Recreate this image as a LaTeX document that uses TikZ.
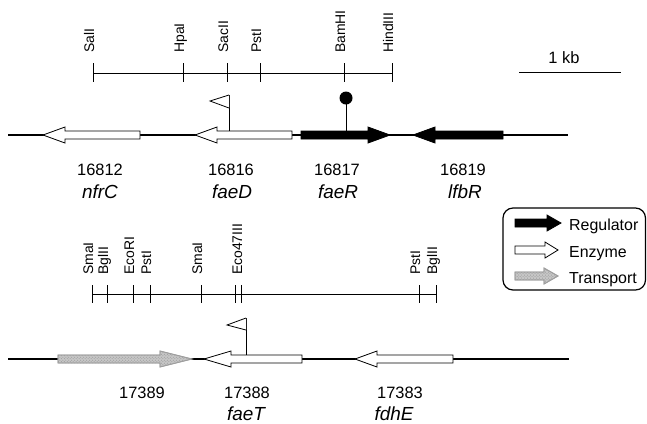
\documentclass[tikz,border=0pt]{standalone}
\usepackage{fontspec}
\setmainfont{Liberation Sans}
\usetikzlibrary{patterns}
\newcommand\genearrow[5]{\draw[#1] (#2,#5-4) -- (#3,#5-4) -- (#3,#5-8) -- (#4,#5) -- (#3,#5+8) -- (#3,#5+4) -- (#2,#5+4) -- cycle;}
\begin{document}
\begin{tikzpicture}[x=1bp,y=-1bp,
  site/.style={rotate=90,anchor=base west,inner sep=0pt,font=\fontsize{14}{16}\selectfont},
  num/.style={anchor=base,inner sep=0pt,font=\fontsize{16.5}{19}\selectfont},
  gname/.style={anchor=base,inner sep=0pt,font=\fontsize{19}{22}\selectfont\itshape},
  legtext/.style={anchor=base west,inner sep=0pt,font=\fontsize{16}{19}\selectfont},
  dna/.style={line width=1.7bp},
  rmap/.style={line width=0.9bp},
  reg/.style={fill=black,draw=black,line width=0.8bp},
  enz/.style={fill=white,draw=black,line width=0.8bp},
  trn/.style={fill=gray!45,draw=gray!75,line width=0.8bp},
  trnpat/.style={pattern=crosshatch dots,pattern color=gray!85,draw=gray!75,line width=0.8bp},
  flagstyle/.style={fill=white,draw=black,line width=0.8bp}
]
\useasboundingbox (0,0) rectangle (647,423);

% ---------- top restriction map ----------
\coordinate (tm1) at (93,73);
\coordinate (tm2) at (393,73);
\draw[rmap] (tm1) -- (tm2);
\foreach \x/\n/\lab in {93/salI/SalI,183/hpaI/HpaI,227/sacII/SacII,260/pstI/PstI,344/bamHI/BamHI,392/hindIII/HindIII}{
  \draw[rmap] (\x,63) -- (\x,82);
  \node[site] (t\n) at (\x+1,53) {\lab};
}
% scale bar
\coordinate (sb1) at (519,72);
\coordinate (sb2) at (621,72);
\draw[rmap] (sb1) -- (sb2);
\node[num] (kb) at (564,63) {1 kb};

% ---------- top gene line ----------
\coordinate (ta) at (8,135);
\coordinate (tb) at (568,135);
\draw[dna] (ta) -- (tb);
\genearrow{enz}{140}{65}{43}{135}
\genearrow{enz}{292}{217}{195}{135}
\genearrow{reg}{301}{368}{390}{135}
\genearrow{reg}{503}{435}{413}{135}
% promoter flag faeD
\draw[line width=0.8bp] (229,131) -- (229,95);
\draw[flagstyle] (229,95) -- (210,101) -- (229,108);
% terminator lollipop faeR
\draw[line width=0.8bp] (346,131) -- (346,100);
\fill (346,98) circle (6.5);

\node[num] (n16812) at (100,175) {16812};
\node[gname] (nfrC) at (100,198) {nfrC};
\node[num] (n16816) at (231,175) {16816};
\node[gname] (faeD) at (232,198) {faeD};
\node[num] (n16817) at (337,175) {16817};
\node[gname] (faeR) at (338,198) {faeR};
\node[num] (n16819) at (463,175) {16819};
\node[gname] (lfbR) at (465,198) {lfbR};

% ---------- legend ----------
\draw[line width=1.2bp,rounded corners=10bp] (503,208) rectangle (645.5,290);
\genearrow{reg}{515}{547}{561}{223}
\genearrow{enz}{515}{545}{558}{250}
\genearrow{trn}{515}{544}{558}{276}
\genearrow{trnpat}{515}{544}{558}{276}
\node[legtext] (lreg) at (569,230) {Regulator};
\node[legtext] (lenz) at (569,257) {Enzyme};
\node[legtext] (ltrn) at (569,283) {Transport};

% ---------- bottom restriction map ----------
\coordinate (bm1) at (92,294);
\coordinate (bm2) at (436,294);
\draw[rmap] (bm1) -- (bm2);
\foreach \x/\n/\lab in {92/smaIa/SmaI,107/bglIIa/BglII,133/ecoRI/EcoRI,150/pstIa/PstI,201/smaIb/SmaI,241/eco/Eco47III,419/pstIb/PstI,436/bglIIb/BglII}{
  \draw[rmap] (\x,285) -- (\x,303);
  \node[site] (b\n) at (\x+1,275) {\lab};
}
\draw[rmap] (235,285) -- (235,303);

% ---------- bottom gene line ----------
\coordinate (ba) at (8,359);
\coordinate (bb) at (569,359);
\draw[dna] (ba) -- (bb);
\genearrow{trn}{58}{160}{192}{359}
\genearrow{trnpat}{58}{160}{192}{359}
\genearrow{enz}{302}{231}{204}{359}
\genearrow{enz}{453}{377}{355}{359}
% promoter flag faeT
\draw[line width=0.8bp] (246,355) -- (246,318);
\draw[flagstyle] (246,318) -- (227,325) -- (246,330);

\node[num] (n17389) at (142,398) {17389};
\node[num] (n17388) at (247,398) {17388};
\node[gname] (faeT) at (246,420) {faeT};
\node[num] (n17383) at (400,398) {17383};
\node[gname] (fdhE) at (394,420) {fdhE};
\end{tikzpicture}
\end{document}
